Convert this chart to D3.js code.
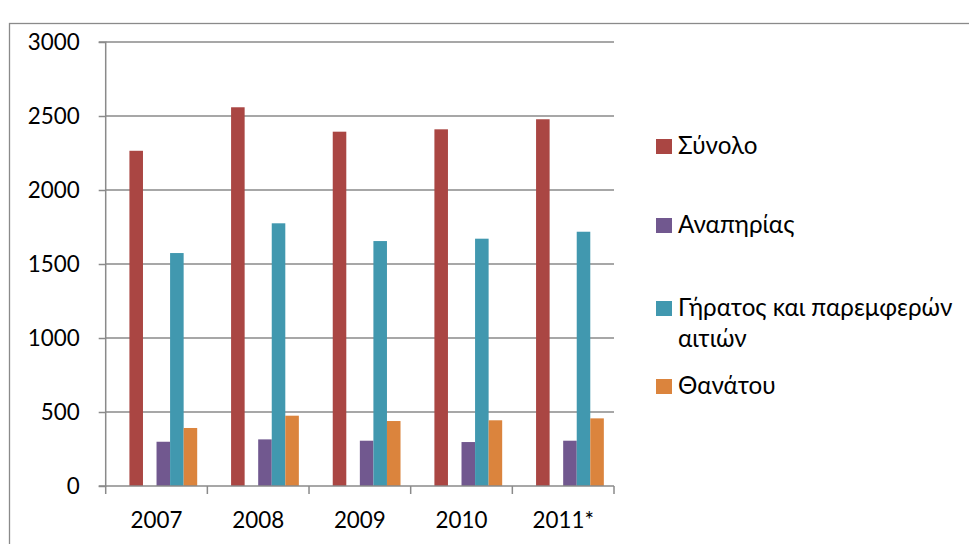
<!DOCTYPE html>
<html>
<head>
<meta charset="utf-8">
<script src="https://cdn.jsdelivr.net/npm/d3@7"></script>
<style>
  html, body { margin: 0; padding: 0; background: #ffffff; }
  svg { display: block; }
  text { font-family: Lato, "Open Sans", "Noto Sans", sans-serif; fill: #000; }
</style>
</head>
<body>
<svg id="chart" width="969" height="544"></svg>
<script>
// Years on the category axis
const years = ["2007", "2008", "2009", "2010", "2011*"];

// Series values per year
const synolo    = [2265, 2559, 2394, 2410, 2478];
const anapirias = [299, 315, 306, 297, 306];
const giratos   = [1574, 1775, 1655, 1671, 1718];
const thanatou  = [392, 475, 439, 444, 457];

// Series names shown in the legend
const seriesNames = ["Σύνολο", "Αναπηρίας", "Γήρατος και παρεμφερών αιτιών", "Θανάτου"];

// Value-axis ticks
const yTicks = [0, 500, 1000, 1500, 2000, 2500, 3000];

// Six bar slots per year; the first and third slots hold no data
const slots = [
  { key: "s1", values: null,      color: "#4572A7" },
  { key: "s2", values: synolo,    color: "#AA4643", name: seriesNames[0] },
  { key: "s3", values: null,      color: "#89A54E" },
  { key: "s4", values: anapirias, color: "#71588F", name: seriesNames[1] },
  { key: "s5", values: giratos,   color: "#4198AF", name: seriesNames[2] },
  { key: "s6", values: thanatou,  color: "#DB843D", name: seriesNames[3] }
];

const svg = d3.select("#chart");
const gridColor = "#8a8a8a";

// Chart-area frame (runs off the right and bottom edges)
svg.append("rect")
  .attr("x", 9.5).attr("y", 23.5)
  .attr("width", 1000).attr("height", 600)
  .attr("fill", "none").attr("stroke", "#8a8a8a").attr("stroke-width", 1.3);

const plot = { left: 105.7, right: 614, top: 42, bottom: 486 };

const y = d3.scaleLinear().domain([0, 3000]).range([plot.bottom, plot.top]);
const x0 = d3.scaleBand().domain(years).range([plot.left, plot.right]).padding(0);
const x1 = d3.scaleBand().domain(slots.map(s => s.key))
  .range([0, x0.bandwidth()]).paddingInner(0).paddingOuter(0.75);

// Horizontal gridlines
svg.append("g")
  .selectAll("line")
  .data(yTicks.filter(t => t > 0))
  .join("line")
  .attr("x1", plot.left).attr("x2", plot.right)
  .attr("y1", d => y(d)).attr("y2", d => y(d))
  .attr("stroke", gridColor).attr("stroke-width", 1.5);

// Bars
const barData = [];
slots.forEach(s => {
  if (!s.values) return;
  s.values.forEach((v, i) => barData.push({ year: years[i], key: s.key, value: v, color: s.color }));
});
svg.append("g")
  .selectAll("rect")
  .data(barData)
  .join("rect")
  .attr("x", d => x0(d.year) + x1(d.key))
  .attr("width", x1.bandwidth())
  .attr("y", d => y(d.value))
  .attr("height", d => y(0) - y(d.value))
  .attr("fill", d => d.color);

// Value axis
const yAxis = svg.append("g")
  .attr("transform", `translate(${plot.left},0)`)
  .call(d3.axisLeft(y).tickValues(yTicks).tickSize(7).tickPadding(19).tickFormat(d3.format("d")));
yAxis.selectAll("path, line").attr("stroke", gridColor).attr("stroke-width", 1.5);
yAxis.select(".domain").attr("d", `M-7,${plot.bottom}H0V${plot.top}H-7`);
yAxis.selectAll("text")
  .attr("font-family", null)
  .style("font-size", "22.4px").attr("fill", "#000");

// Category axis
const xAxis = svg.append("g")
  .attr("transform", `translate(0,${plot.bottom})`)
  .call(d3.axisBottom(x0).tickSize(0).tickPadding(26));
xAxis.select(".domain").attr("stroke", gridColor).attr("stroke-width", 1.5)
  .attr("d", `M${plot.left},0H${plot.right}`);
xAxis.selectAll("text").attr("font-family", null).style("font-size", "22.4px").attr("fill", "#000");
// Divider ticks between categories
xAxis.append("g")
  .selectAll("line")
  .data(years.map(d => x0(d)).concat([plot.right]))
  .join("line")
  .attr("x1", d => d).attr("x2", d => d)
  .attr("y1", 0).attr("y2", 8)
  .attr("stroke", gridColor).attr("stroke-width", 1.5);

// Legend
const legendItems = [
  { slot: slots[1], lines: ["Σύνολο"], baseline: 154 },
  { slot: slots[3], lines: ["Αναπηρίας"], baseline: 233 },
  { slot: slots[4], lines: ["Γήρατος και παρεμφερών", "αιτιών"], baseline: 316 },
  { slot: slots[5], lines: ["Θανάτου"], baseline: 394 }
];
const legend = svg.append("g");
legendItems.forEach(item => {
  legend.append("rect")
    .attr("x", 656).attr("y", item.baseline - 15)
    .attr("width", 16).attr("height", 15)
    .attr("fill", item.slot.color);
  const t = legend.append("text")
    .attr("x", 678).attr("y", item.baseline)
    .style("font-size", "24.2px");
  item.lines.forEach((ln, i) => {
    t.append("tspan").attr("x", 678).attr("dy", i === 0 ? 0 : 31).text(ln);
  });
});
</script>
</body>
</html>
